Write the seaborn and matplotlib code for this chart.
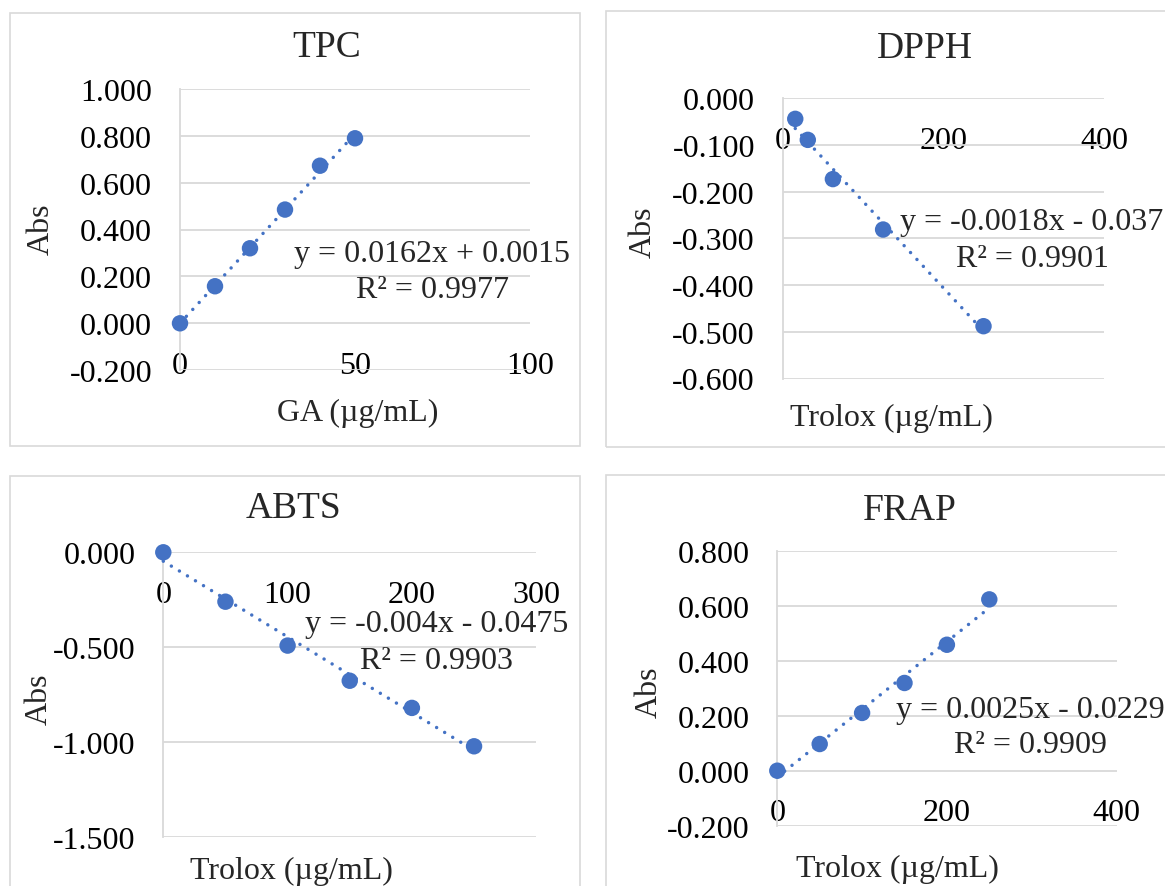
import numpy as np
import pandas as pd
import matplotlib
matplotlib.use("Agg")
import matplotlib.pyplot as plt
from matplotlib.patches import Rectangle
from matplotlib.ticker import FixedLocator, FuncFormatter
import seaborn as sns

# ---------------- data ----------------
tpc_x = [0, 10, 20, 30, 40, 50]
tpc_y = [0.000, 0.158, 0.320, 0.485, 0.672, 0.789]

dpph_x = [15.625, 31.25, 62.5, 125, 250]
dpph_y = [-0.044, -0.089, -0.173, -0.281, -0.488]

abts_x = [0, 50, 100, 150, 200, 250]
abts_y = [0.000, -0.260, -0.491, -0.676, -0.819, -1.021]

frap_x = [0, 50, 100, 150, 200, 250]
frap_y = [0.000, 0.097, 0.210, 0.319, 0.458, 0.623]

titles = ["TPC", "DPPH", "ABTS", "FRAP"]
xlabels = ["GA (µg/mL)", "Trolox (µg/mL)", "Trolox (µg/mL)", "Trolox (µg/mL)"]
ylabel = "Abs"
eq_lines = [("y = 0.0162x + 0.0015", "R² = 0.9977"),
            ("y = -0.0018x - 0.037", "R² = 0.9901"),
            ("y = -0.004x - 0.0475", "R² = 0.9903"),
            ("y = 0.0025x - 0.0229", "R² = 0.9909")]

tpc_xticks = [0, 50, 100]
tpc_yticks = [-0.2, 0.0, 0.2, 0.4, 0.6, 0.8, 1.0]
dpph_xticks = [0, 200, 400]
dpph_yticks = [-0.6, -0.5, -0.4, -0.3, -0.2, -0.1, 0.0]
abts_xticks = [0, 100, 200, 300]
abts_yticks = [-1.5, -1.0, -0.5, 0.0]
frap_xticks = [0, 200, 400]
frap_yticks = [-0.2, 0.0, 0.2, 0.4, 0.6, 0.8]

# ---------------- style ----------------
sns.set_theme(style="white")
plt.rcParams["font.family"] = ["Liberation Serif", "DejaVu Serif"]
plt.rcParams["axes.unicode_minus"] = False

W, H = 1165, 887
BLUE = "#4472C4"
GRID = "#d9d9d9"
FS = 23
TFS = 27

fig = plt.figure(figsize=(W / 100, H / 100), dpi=100)
fig.patch.set_facecolor("white")


def fx(x):
    return x / W


def fy(y):
    return 1 - y / H


# panel borders (px: left, top, right, bottom)
panels = [(9.5, 14, 579.5, 446.7), (605.5, 12, 1200, 448),
          (9.5, 477, 579.5, 930), (605.5, 476, 1200, 930)]
for (l, t, r, b) in panels:
    fig.patches.append(Rectangle((fx(l), fy(b)), fx(r) - fx(l), fy(t) - fy(b),
                                 transform=fig.transFigure, fill=False,
                                 edgecolor=GRID, lw=1.2, zorder=0))

# axes boxes (px: left, top, right, bottom)
boxes = [(180, 89.8, 530, 371.2), (782.7, 99.3, 1104, 379.5),
         (163.3, 553.3, 536.2, 838.3), (777.3, 551.7, 1116.5, 826.7)]
datasets = [(tpc_x, tpc_y, tpc_xticks, tpc_yticks),
            (dpph_x, dpph_y, dpph_xticks, dpph_yticks),
            (abts_x, abts_y, abts_xticks, abts_yticks),
            (frap_x, frap_y, frap_xticks, frap_yticks)]

# text positions (px)
title_pos = [(327, 57), (925, 58), (294, 518), (910, 520)]
xlabel_pos = [(357.5, 421), (891, 426), (291.5, 879), (897.5, 877)]
ylabel_pos = [(49, 229), (651, 232), (47, 699), (657, 692)]
eq_pos = [(432, 262, 298), (1032, 230, 267), (436.5, 632, 669), (1030, 718, 753)]

for i, ((l, t, r, b), (xs, ys, xt, yt)) in enumerate(zip(boxes, datasets)):
    ax = fig.add_axes([fx(l), fy(b), fx(r) - fx(l), fy(t) - fy(b)])
    ax.set_facecolor("none")
    df = pd.DataFrame({"x": xs, "y": ys})
    sns.regplot(data=df, x="x", y="y", ax=ax, ci=None, truncate=True,
                scatter_kws=dict(s=140, color=BLUE, edgecolor="none",
                                 alpha=1, zorder=4, clip_on=False),
                line_kws=dict(color=BLUE, lw=2.5, ls=(0, (0.01, 2.7)),
                              dash_capstyle="round", zorder=3, clip_on=False))
    ax.set_xlim(xt[0], xt[-1])
    ax.set_ylim(yt[0], yt[-1])
    ax.xaxis.set_major_locator(FixedLocator(xt))
    ax.yaxis.set_major_locator(FixedLocator(yt))
    ax.xaxis.set_major_formatter(FuncFormatter(lambda v, p: f"{v:.0f}"))
    ax.yaxis.set_major_formatter(FuncFormatter(lambda v, p: f"{v:.3f}"))
    ax.set_xlabel("")
    ax.set_ylabel("")
    ax.grid(axis="y", color=GRID, lw=1.3)
    ax.grid(axis="x", visible=False)
    ax.set_axisbelow(True)
    for s in ["top", "right"]:
        ax.spines[s].set_visible(False)
    ax.spines["bottom"].set_position(("data", 0))
    ax.spines["bottom"].set_visible(False)
    ax.spines["left"].set_color(GRID)
    ax.spines["left"].set_linewidth(1.3)
    ax.spines["left"].set_visible(True)
    ax.tick_params(axis="both", length=0, labelsize=FS, colors="black")
    ax.tick_params(axis="y", pad=20)
    ax.tick_params(axis="x", pad=20)

    tx, ty = title_pos[i]
    fig.text(fx(tx), fy(ty), titles[i], fontsize=TFS, ha="center", va="baseline")
    lx, ly = xlabel_pos[i]
    fig.text(fx(lx), fy(ly), xlabels[i], fontsize=FS, ha="center", va="baseline")
    yx, yy = ylabel_pos[i]
    fig.text(fx(yx), fy(yy), ylabel, fontsize=FS, rotation=90,
             rotation_mode="anchor", ha="center", va="baseline")
    ex, e1, e2 = eq_pos[i]
    fig.text(fx(ex), fy(e1), eq_lines[i][0], fontsize=FS, ha="center", va="baseline")
    fig.text(fx(ex), fy(e2), eq_lines[i][1], fontsize=FS, ha="center", va="baseline")

fig.savefig("out.png", dpi=100, facecolor="white")
